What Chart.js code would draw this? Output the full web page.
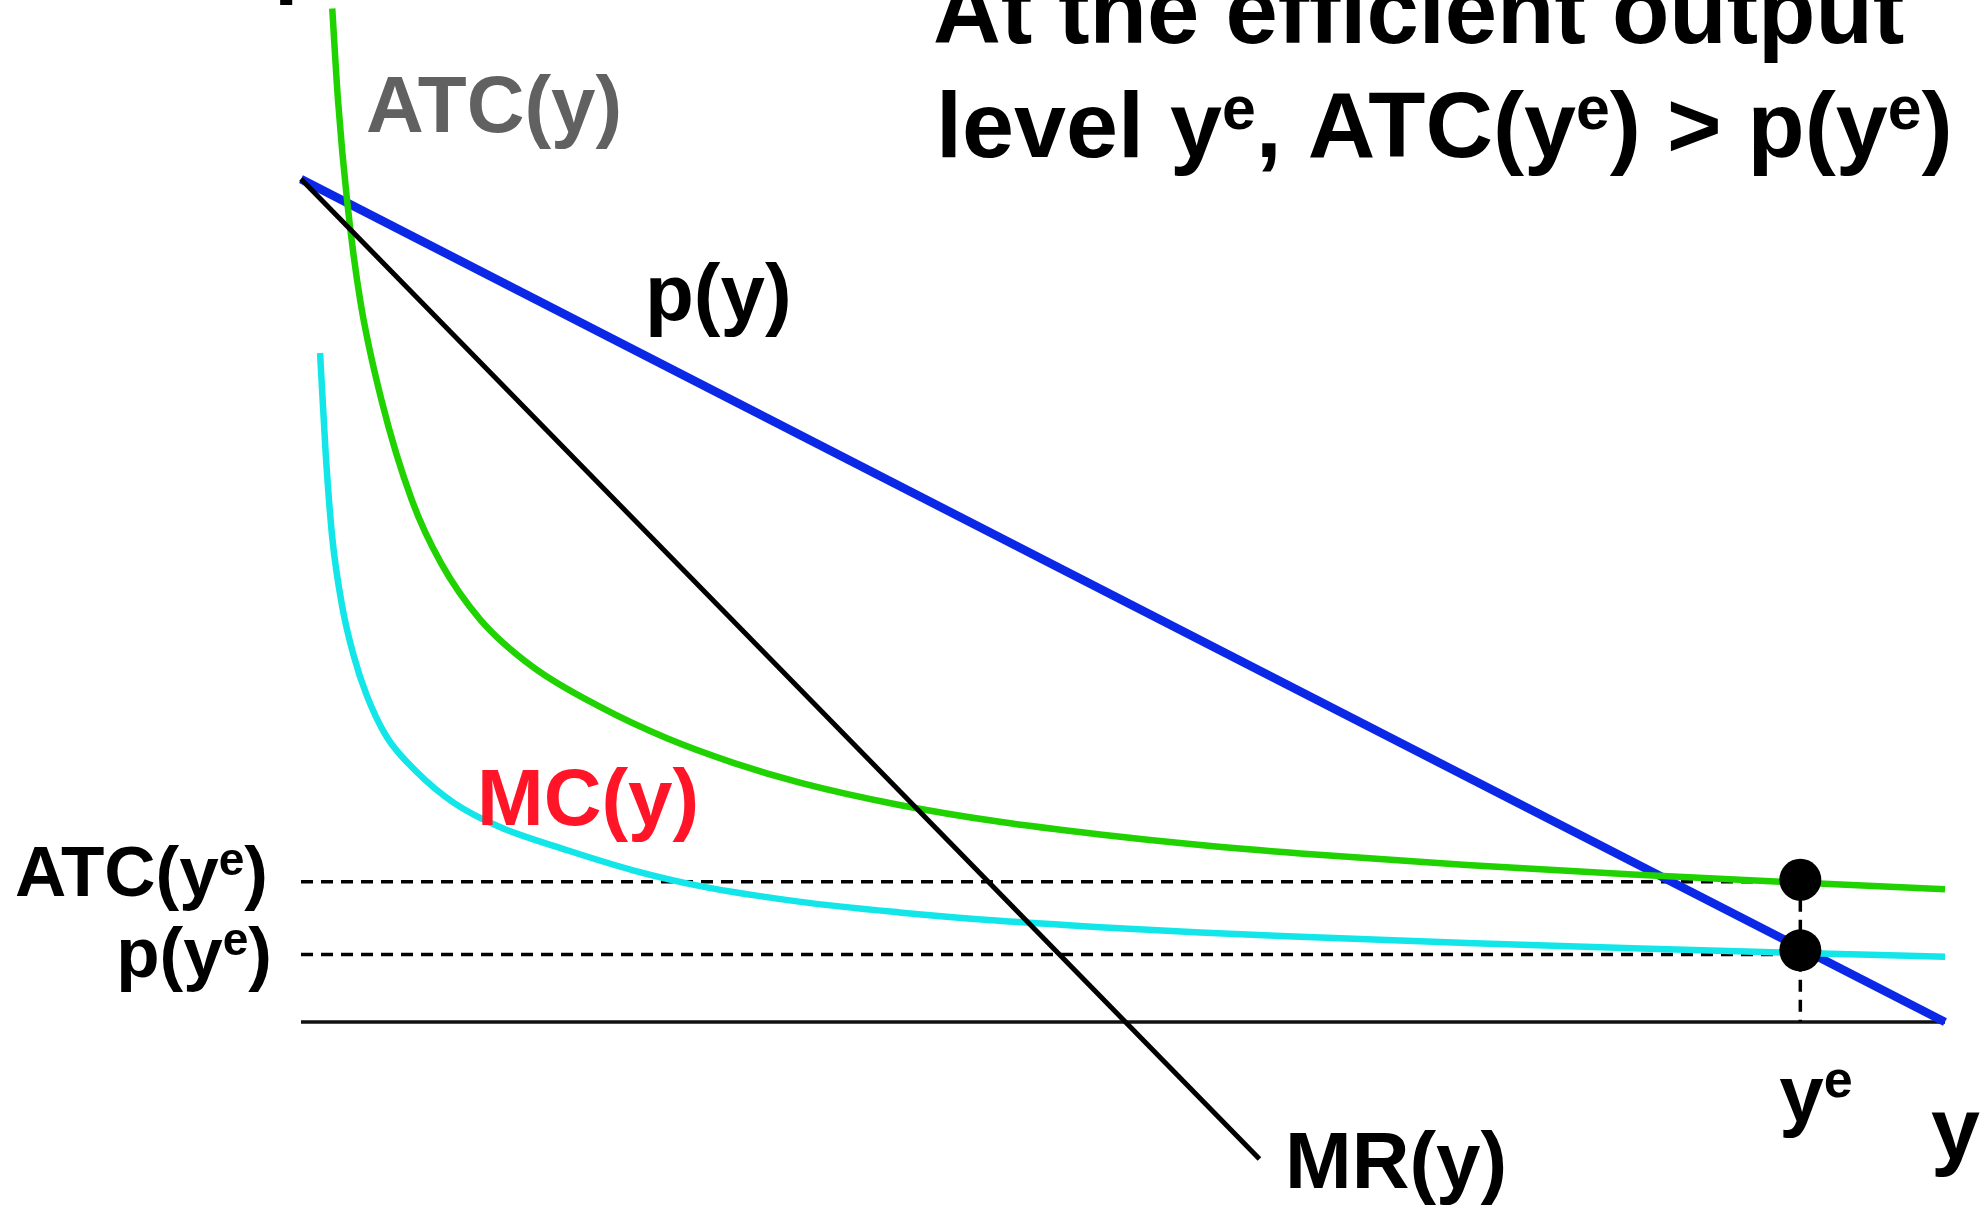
<!DOCTYPE html>
<html>
<head>
<meta charset="utf-8">
<script src="https://cdn.jsdelivr.net/npm/chart.js@4"></script>
<style>
  html, body { margin: 0; padding: 0; background: #fff; }
  #wrap { width: 1984px; height: 1206px; overflow: hidden; }
</style>
</head>
<body>
<div id="wrap"><canvas id="chart" width="1984" height="1206"></canvas></div>
<script>
// output level y on x, price / cost on y
const yeX = 9.12;

// ATC(y) - average total cost
const atcX = [0.19, 0.225, 0.28, 0.36, 0.49, 0.675, 0.85, 1.09, 1.41, 1.82, 2.23, 2.63, 3.04, 3.64, 4.25, 4.86, 5.47, 6.08, 7.09, 8.10, 9.0, 10];
const atcY = [9.62, 8.75, 7.80, 6.85, 5.90, 4.95, 4.36, 3.82, 3.37, 2.99, 2.69, 2.46, 2.27, 2.06, 1.90, 1.78, 1.68, 1.60, 1.49, 1.40, 1.33, 1.26];

// MC(y) - marginal cost
const mcX = [0.116, 0.15, 0.19, 0.25, 0.32, 0.40, 0.52, 0.70, 0.93, 1.21, 1.62, 2.02, 2.43, 3.04, 3.64, 4.25, 4.86, 5.47, 6.08, 7.09, 8.10, 9.0, 10];
const mcY = [6.35, 5.40, 4.60, 3.95, 3.48, 3.10, 2.71, 2.38, 2.08, 1.85, 1.63, 1.44, 1.29, 1.14, 1.04, 0.96, 0.90, 0.85, 0.81, 0.75, 0.70, 0.66, 0.62];

// inverse demand p(y) and marginal revenue MR(y)
const priceX = [0, 10];
const priceY = [8, 0];
const mrX = [0, 5.83];
const mrY = [8, -1.3];

// points at y^e: ATC(y^e), p(y^e)
const dotY = [1.35, 0.68];
const guideY = [1.33, 0.64];

const pts = (xs, ys) => xs.map((x, i) => ({ x: x, y: ys[i] }));

const FONT = '"Liberation Sans", Arial, sans-serif';

// text with superscripts: segs = [[text, isSup], ...]
function drawRich(ctx, segs, x, y, size, align) {
  const supSize = size * 0.65;
  let total = 0;
  segs.forEach(s => {
    ctx.font = 'bold ' + (s[1] ? supSize : size) + 'px ' + FONT;
    total += ctx.measureText(s[0]).width;
  });
  let cx = align === 'right' ? x - total : x;
  ctx.textAlign = 'left';
  ctx.textBaseline = 'alphabetic';
  segs.forEach(s => {
    ctx.font = 'bold ' + (s[1] ? supSize : size) + 'px ' + FONT;
    ctx.fillText(s[0], cx, s[1] ? y - size * 0.3 : y);
    cx += ctx.measureText(s[0]).width;
  });
}

const labelPlugin = {
  id: 'labels',
  afterDraw(chart) {
    const ctx = chart.ctx;
    const xs = chart.scales.x, ys = chart.scales.y;
    ctx.save();

    ctx.fillStyle = '#000';
    drawRich(ctx, [['At the efficient output', false]], 933, 43, 94, 'left');
    drawRich(ctx, [['level y', false], ['e', true], [', ATC(y', false], ['e', true], [') > p(y', false], ['e', true], [')', false]], 936, 157, 93.5, 'left');

    // axis names
    drawRich(ctx, [['p', false]], 274, -13, 88, 'left');
    drawRich(ctx, [['y', false]], 1931, 1159, 88, 'left');

    // curve names
    ctx.fillStyle = '#616161';
    drawRich(ctx, [['ATC(y)', false]], 366, 132, 80, 'left');
    ctx.fillStyle = '#000';
    drawRich(ctx, [['p(y)', false]], 645, 320, 80, 'left');
    ctx.fillStyle = '#ff1428';
    drawRich(ctx, [['MC(y)', false]], 477, 825, 80, 'left');
    ctx.fillStyle = '#000';
    drawRich(ctx, [['MR(y)', false]], 1285, 1188, 80, 'left');

    // level labels next to the guide lines
    const left = chart.chartArea.left - 33;
    drawRich(ctx, [['ATC(y', false], ['e', true], [')', false]], left, ys.getPixelForValue(guideY[0]) + 14, 71, 'right');
    drawRich(ctx, [['p(y', false], ['e', true], [')', false]], left + 4, ys.getPixelForValue(guideY[1]) + 22, 71, 'right');
    drawRich(ctx, [['y', false], ['e', true]], xs.getPixelForValue(yeX) - 21, 1121, 80, 'left');

    ctx.restore();
  }
};

const dashed = { borderColor: '#000', borderWidth: 3.5, borderDash: [12, 8], pointRadius: 0, fill: false, clip: false };

new Chart(document.getElementById('chart'), {
  type: 'line',
  data: {
    datasets: [
      {
        label: 'equilibrium',
        data: pts([yeX, yeX], dotY),
        showLine: false,
        pointRadius: 21,
        pointBackgroundColor: '#000',
        pointBorderWidth: 0,
        clip: false
      },
      {
        label: 'MR(y)',
        data: pts(mrX, mrY),
        borderColor: '#000',
        borderWidth: 5,
        pointRadius: 0,
        clip: false
      },
      {
        label: 'MC(y)',
        data: pts(mcX, mcY),
        borderColor: '#12e6e8',
        borderWidth: 6.5,
        pointRadius: 0,
        cubicInterpolationMode: 'monotone',
        clip: false
      },
      {
        label: 'ATC(y)',
        data: pts(atcX, atcY),
        borderColor: '#1fd200',
        borderWidth: 6.5,
        pointRadius: 0,
        cubicInterpolationMode: 'monotone',
        clip: false
      },
      {
        label: 'p(y)',
        data: pts(priceX, priceY),
        borderColor: '#0a28e6',
        borderWidth: 8.5,
        pointRadius: 0,
        clip: false
      },
      Object.assign({ label: 'ATC level', data: pts([0, yeX], [guideY[0], guideY[0]]) }, dashed),
      Object.assign({ label: 'p level', data: pts([0, yeX], [guideY[1], guideY[1]]) }, dashed),
      Object.assign({ label: 'y level', data: pts([yeX, yeX], [dotY[0], 0]) }, dashed),
      {
        label: 'axis',
        data: pts([0, 10], [0, 0]),
        borderColor: '#111',
        borderWidth: 3.5,
        pointRadius: 0,
        clip: false
      }
    ]
  },
  options: {
    responsive: false,
    animation: false,
    devicePixelRatio: 1,
    layout: { autoPadding: false, padding: { left: 301, right: 39, top: 0, bottom: 184 } },
    scales: {
      x: { type: 'linear', min: 0, max: 10, display: false },
      y: { type: 'linear', min: 0, max: 9.7, display: false }
    },
    plugins: {
      legend: { display: false },
      tooltip: { enabled: false }
    }
  },
  plugins: [labelPlugin]
});
</script>
</body>
</html>
